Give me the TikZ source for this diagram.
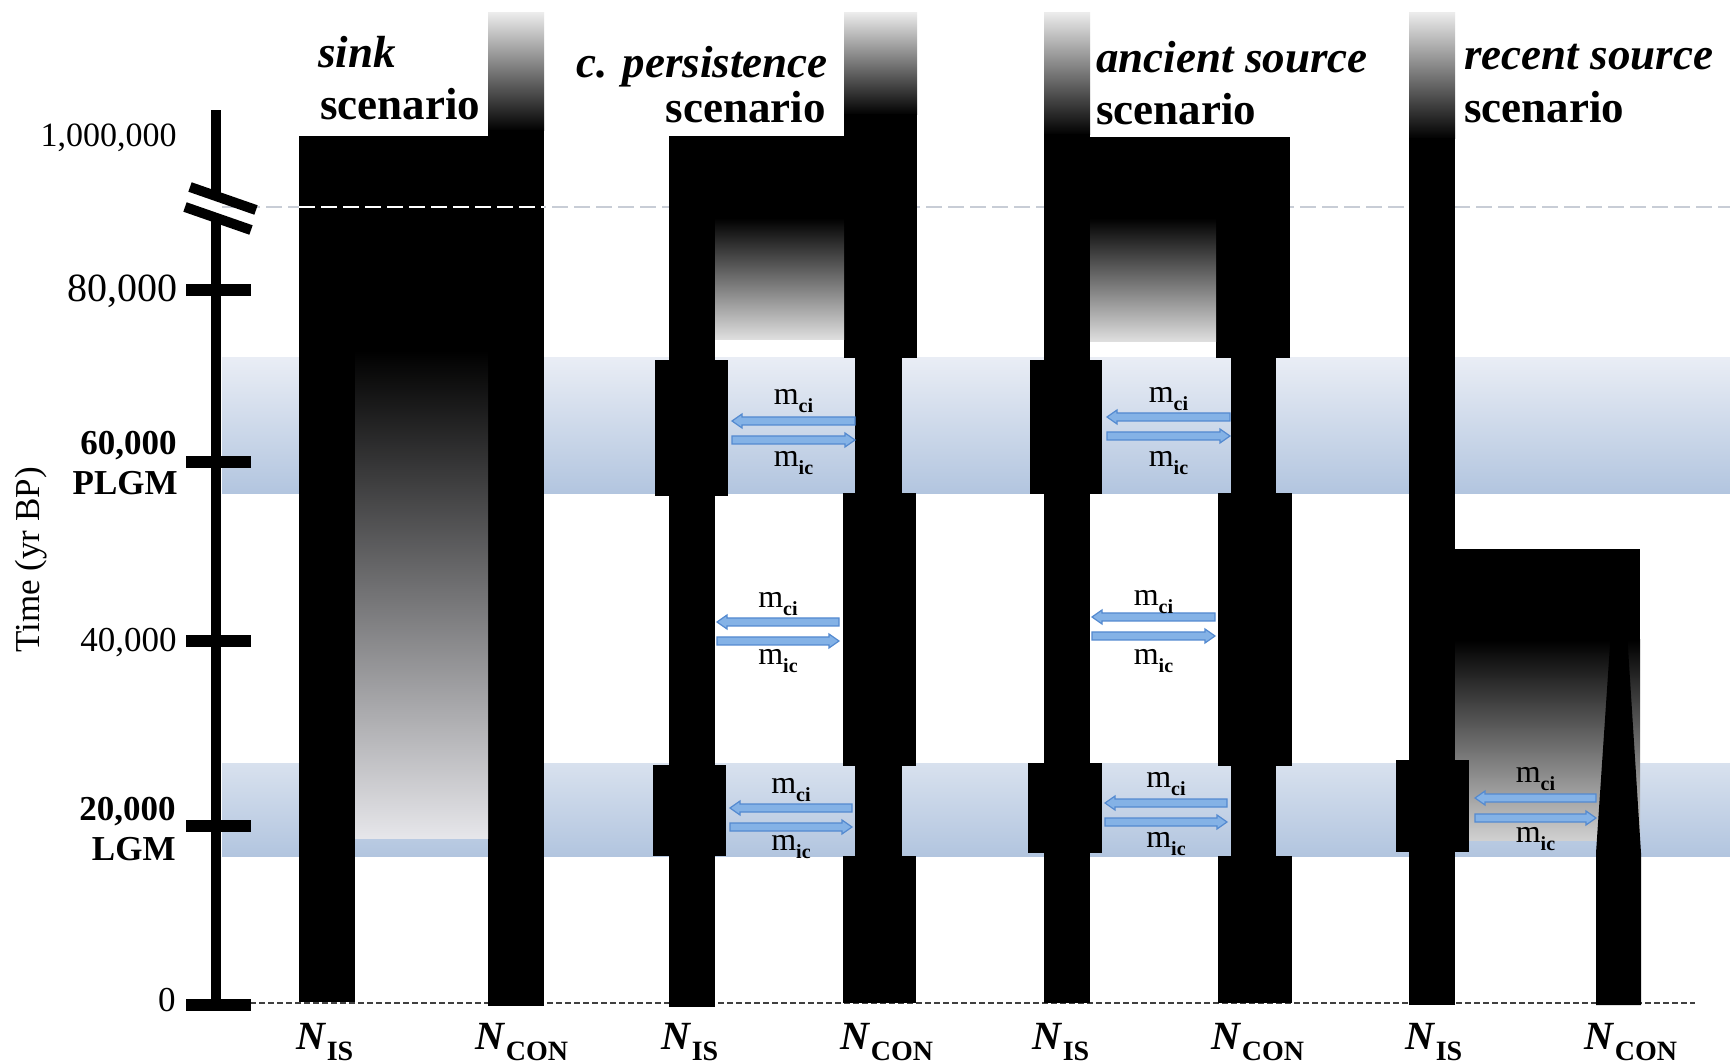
\documentclass[tikz,border=0pt]{standalone}
\usepackage{fontspec}
\setmainfont{Liberation Serif}
\definecolor{bandtop}{RGB}{233,237,245}
\definecolor{bandbot}{RGB}{178,197,223}
\definecolor{bandtoptwo}{RGB}{216,225,238}
\definecolor{arrowfill}{RGB}{132,178,230}
\definecolor{arrowline}{RGB}{84,138,208}
\definecolor{fadeend}{RGB}{230,230,234}
\definecolor{fadeendtwo}{RGB}{224,224,224}
\definecolor{fadeendthree}{RGB}{208,208,208}
\definecolor{dashgray}{RGB}{200,205,214}
\newcommand{\msubx}[1]{\raisebox{-4pt}{\bfseries\fontsize{10}{10}\selectfont #1}}
\newcommand{\nlabx}[1]{\textbf{\textit{N}}\raisebox{-5.5pt}{\bfseries\fontsize{14}{14}\selectfont #1}}
\tikzset{
  blk/.style={fill=black},
  migarrow/.style={fill=arrowfill, draw=arrowline, line width=0.6pt},
  mlab/.style={anchor=base, inner sep=0, font=\fontsize{16}{18}\selectfont},
  axl/.style={anchor=base east, inner sep=0, font=\fontsize{17}{20}\selectfont},
  axlb/.style={anchor=base east, inner sep=0, font=\bfseries\fontsize{17.5}{20}\selectfont},
  hd/.style={inner sep=0, font=\bfseries\fontsize{22.5}{26}\selectfont},
  nl/.style={anchor=base, inner sep=0, font=\fontsize{20}{22}\selectfont},
  topfade/.style={top color=black!8, bottom color=black},
}
\newcommand{\miggroup}[7]{%
  \filldraw[migarrow] (#1,#3) -- (#1+10,#3-7) -- (#1+10,#3-4) -- (#2,#3-4) -- (#2,#3+4) -- (#1+10,#3+4) -- (#1+10,#3+7) -- cycle;
  \filldraw[migarrow] (#2,#4) -- (#2-10,#4-7) -- (#2-10,#4-4) -- (#1,#4-4) -- (#1,#4+4) -- (#2-10,#4+4) -- (#2-10,#4+7) -- cycle;
  \node[mlab] (#7ci) at ({(#1+#2)/2},#5) {m\msubx{ci}};
  \node[mlab] (#7ic) at ({(#1+#2)/2},#6) {m\msubx{ic}};
}
\begin{document}
\begin{tikzpicture}[x=0.5pt,y=-0.5pt]
\useasboundingbox (0,0) rectangle (1730,1063);
\fill[white] (0,0) rectangle (1730,1063);
% bands
\shade[top color=bandtop, bottom color=bandbot] (222,358) rectangle (1730,494);
\shade[top color=bandtoptwo, bottom color=bandbot] (222,763) rectangle (1730,856);
% dashed lines
\draw[dashgray, line width=1pt, dash pattern=on 8pt off 3pt] (222,207) -- (1730,207);
\draw[black!75, line width=0.9pt, dash pattern=on 3pt off 1.5pt] (250,1003) -- (1695,1003);
% sink scenario
\fill[blk] (299,136) rectangle (488,351);
\fill[blk] (299,136) rectangle (355,1002);
\shade[topfade] (488,13) rectangle (544,131);
\fill[blk] (488,130) rectangle (544,1006);
\shade[top color=black, bottom color=fadeend] (355,350) rectangle (488,838);
\draw[white, line width=1pt, dash pattern=on 8pt off 3pt] (299,207) -- (544,207);
% c. persistence scenario
\shade[topfade] (844,13) rectangle (917,115);
\fill[blk] (844,114) rectangle (917,358);
\fill[blk] (669,136) rectangle (845,219);
\fill[blk] (669,136) rectangle (715,1007);
\shade[top color=black, bottom color=fadeendtwo] (715,218) rectangle (844,340);
\fill[blk] (655,360) rectangle (728,496);
\fill[blk] (653,765) rectangle (726,856);
\fill[blk] (855,357) rectangle (902,494);
\fill[blk] (843,493) rectangle (916,766);
\fill[blk] (855,765) rectangle (902,857);
\fill[blk] (843,856) rectangle (916,1003);
% ancient source scenario
\shade[topfade] (1044,13) rectangle (1090,135);
\fill[blk] (1044,134) rectangle (1090,1003);
\fill[blk] (1044,137) rectangle (1290,219);
\fill[blk] (1216,137) rectangle (1290,358);
\shade[top color=black, bottom color=fadeendtwo] (1090,218) rectangle (1216,342);
\fill[blk] (1030,360) rectangle (1102,494);
\fill[blk] (1028,763) rectangle (1102,853);
\fill[blk] (1231,357) rectangle (1276,494);
\fill[blk] (1218,493) rectangle (1292,766);
\fill[blk] (1231,765) rectangle (1276,857);
\fill[blk] (1218,856) rectangle (1292,1003);
% recent source scenario
\shade[topfade] (1409,13) rectangle (1455,139);
\fill[blk] (1409,138) rectangle (1455,1005);
\fill[blk] (1455,549) rectangle (1640,641);
\shade[top color=black, bottom color=fadeendthree] (1455,640) rectangle (1640,840);
\fill[blk] (1396,760) rectangle (1469,852);
\fill[blk] (1613,600) -- (1625,600) -- (1641,853) -- (1641,1005) -- (1596,1005) -- (1596,853) -- cycle;
% migration arrows
\miggroup{732}{855}{421}{440}{405}{467}{cpu}
\miggroup{717}{839}{622}{641}{608}{665}{cpm}
\miggroup{730}{852}{808}{827}{793}{850}{cpl}
\miggroup{1107}{1230}{417}{436}{403}{467}{anu}
\miggroup{1092}{1215}{617}{636}{606}{665}{anm}
\miggroup{1105}{1227}{803}{822}{787}{847}{anl}
\miggroup{1475}{1596}{798}{818}{783}{842}{rel}
% axis
\fill[blk] (211,110) rectangle (221,193);
\fill[blk] (211,219) rectangle (221,1005);
\draw[line width=5pt] (190,187) -- (256,210);
\draw[line width=5pt] (185,207) -- (251,230);
\foreach \ty in {290,462,641,826,1005} {\fill[blk] (186,\ty-6) rectangle (251,\ty+6);}
\node[axl] (t1m) at (177,147) {1,000,000};
\node[axl, font=\fontsize{20}{22}\selectfont] (t80) at (178,302) {80,000};
\node[axlb] (t60) at (177,455) {60,000};
\node[axlb] (plgm) at (178,495) {PLGM};
\node[axl, font=\fontsize{17.5}{20}\selectfont] (t40) at (177,652) {40,000};
\node[axlb] (t20) at (176,820) {20,000};
\node[axlb] (lgm) at (176,860) {LGM};
\node[axl, font=\fontsize{17.5}{20}\selectfont] (t0) at (176,1011) {0};
\node[rotate=90, inner sep=0, font=\fontsize{17.5}{20}\selectfont] (tlab) at (31,560) {Time (yr BP)};
% headers
\node[hd, anchor=base west] (sinkA) at (318,68) {\textit{sink}};
\node[hd, anchor=base west] (sinkB) at (320,120) {scenario};
\node[hd, anchor=base east] (cpA) at (828,78) {\textit{c. persistence}};
\node[hd, anchor=base east] (cpB) at (826,123) {scenario};
\node[hd, anchor=base west] (anA) at (1096,73) {\textit{ancient source}};
\node[hd, anchor=base west] (anB) at (1096,125) {scenario};
\node[hd, anchor=base west] (reA) at (1464,70) {\textit{recent source}};
\node[hd, anchor=base west] (reB) at (1464,123) {scenario};
% bottom labels
\node[nl] (nis1) at (325,1049) {\nlabx{IS}};
\node[nl] (ncon1) at (522,1049) {\nlabx{CON}};
\node[nl] (nis2) at (690,1049) {\nlabx{IS}};
\node[nl] (ncon2) at (887,1049) {\nlabx{CON}};
\node[nl] (nis3) at (1061,1049) {\nlabx{IS}};
\node[nl] (ncon3) at (1258,1049) {\nlabx{CON}};
\node[nl] (nis4) at (1434,1049) {\nlabx{IS}};
\node[nl] (ncon4) at (1631,1049) {\nlabx{CON}};
\end{tikzpicture}
\end{document}
